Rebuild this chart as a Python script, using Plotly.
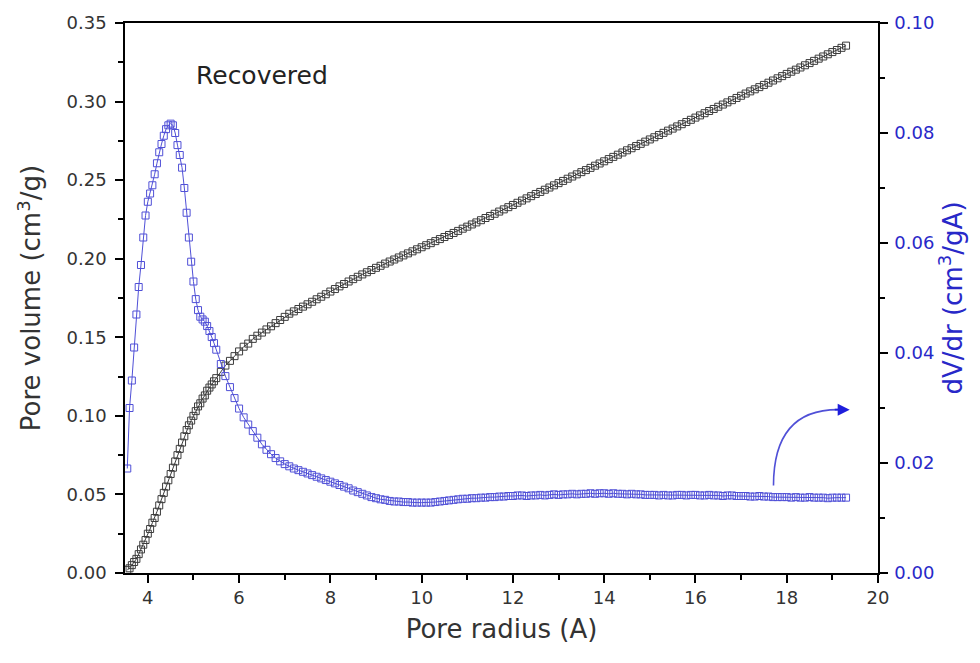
import plotly.graph_objects as go

# Pore radius (Angstrom)
radius = [
    3.55, 3.60, 3.65, 3.70, 3.75, 3.80, 3.85, 3.90, 3.95, 4.00,
    4.05, 4.10, 4.15, 4.20, 4.25, 4.30, 4.35, 4.40, 4.45, 4.50,
    4.55, 4.60, 4.65, 4.70, 4.75, 4.80, 4.85, 4.90, 4.95, 5.00,
    5.05, 5.10, 5.15, 5.20, 5.25, 5.30, 5.35, 5.40, 5.45, 5.50,
    5.6, 5.7, 5.8, 5.9, 6.0, 6.1, 6.2, 6.3, 6.4, 6.5,
    6.6, 6.7, 6.8, 6.9, 7.0, 7.1, 7.2, 7.3, 7.4, 7.5,
    7.6, 7.7, 7.8, 7.9, 8.0, 8.1, 8.2, 8.3, 8.4, 8.5,
    8.6, 8.7, 8.8, 8.9, 9.0, 9.1, 9.2, 9.3, 9.4, 9.5,
    9.6, 9.7, 9.8, 9.9, 10.0, 10.1, 10.2, 10.3, 10.4, 10.5,
    10.6, 10.7, 10.8, 10.9, 11.0, 11.1, 11.2, 11.3, 11.4, 11.5,
    11.6, 11.7, 11.8, 11.9, 12.0,
    12.1, 12.2, 12.3, 12.4, 12.5, 12.6, 12.7, 12.8, 12.9, 13.0,
    13.1, 13.2, 13.3, 13.4, 13.5, 13.6, 13.7, 13.8, 13.9, 14.0,
    14.1, 14.2, 14.3, 14.4, 14.5, 14.6, 14.7, 14.8, 14.9, 15.0,
    15.1, 15.2, 15.3, 15.4, 15.5, 15.6, 15.7, 15.8, 15.9, 16.0,
    16.1, 16.2, 16.3, 16.4, 16.5, 16.6, 16.7, 16.8, 16.9, 17.0,
    17.1, 17.2, 17.3, 17.4, 17.5, 17.6, 17.7, 17.8, 17.9, 18.0,
    18.1, 18.2, 18.3, 18.4, 18.5, 18.6, 18.7, 18.8, 18.9, 19.0,
    19.1, 19.2, 19.3,
]

# Cumulative pore volume (cm3/g)
pore_volume = [
    0.002, 0.003, 0.005, 0.007, 0.009, 0.012, 0.015, 0.018, 0.021, 0.025,
    0.028, 0.032, 0.035, 0.039, 0.043, 0.047, 0.051, 0.055, 0.059, 0.063,
    0.067, 0.071, 0.075, 0.079, 0.083, 0.087, 0.091, 0.094, 0.097, 0.100,
    0.103, 0.106, 0.108, 0.111, 0.113, 0.116, 0.118, 0.120, 0.122, 0.124,
    0.128, 0.132, 0.135, 0.138, 0.141, 0.144, 0.146, 0.149, 0.151, 0.153,
    0.155, 0.157, 0.159, 0.161, 0.163, 0.165, 0.1665, 0.1680, 0.1695, 0.1710,
    0.1726, 0.1742, 0.1758, 0.1774, 0.1791, 0.1807, 0.1824, 0.1839, 0.1855, 0.1870,
    0.1885, 0.1900, 0.1914, 0.1928, 0.1942, 0.1955, 0.1969, 0.1982, 0.1995, 0.2008,
    0.2021, 0.2034, 0.2047, 0.2060, 0.2073, 0.2086, 0.2099, 0.2112, 0.2125, 0.2138,
    0.2151, 0.2164, 0.2177, 0.2191, 0.2204, 0.2218, 0.2231, 0.2245, 0.2259, 0.2272,
    0.2286, 0.2300, 0.2314, 0.2328, 0.2342,
    0.2356, 0.2370, 0.2384, 0.2398, 0.2412, 0.2425, 0.2439, 0.2453, 0.2467, 0.2481,
    0.2495, 0.2509, 0.2523, 0.2537, 0.2551, 0.2564, 0.2578, 0.2592, 0.2606, 0.2620,
    0.2634, 0.2648, 0.2662, 0.2676, 0.2690, 0.2703, 0.2717, 0.2731, 0.2745, 0.2759,
    0.2773, 0.2787, 0.2801, 0.2815, 0.2828, 0.2842, 0.2856, 0.2870, 0.2884, 0.2898,
    0.2912, 0.2926, 0.2940, 0.2953, 0.2967, 0.2981, 0.2995, 0.3009, 0.3023, 0.3037,
    0.3051, 0.3065, 0.3078, 0.3092, 0.3106, 0.3120, 0.3134, 0.3148, 0.3162, 0.3176,
    0.3190, 0.3203, 0.3217, 0.3231, 0.3245, 0.3259, 0.3273, 0.3287, 0.3301, 0.3315,
    0.3328, 0.3342, 0.3356,
]

# Pore size distribution dV/dr (cm3/gA)
dv_dr = [
    0.019, 0.030, 0.035, 0.041, 0.047, 0.052, 0.056, 0.061, 0.065, 0.0675,
    0.069, 0.0705, 0.0725, 0.0745, 0.0765, 0.078, 0.0795, 0.0807, 0.0814, 0.0817,
    0.0814, 0.0800, 0.0778, 0.0760, 0.0737, 0.0700, 0.0655, 0.0610, 0.0566, 0.0530,
    0.0498, 0.0478, 0.0466, 0.0461, 0.0457, 0.0449, 0.0440, 0.0429, 0.0418, 0.0406,
    0.0380, 0.0358, 0.0338, 0.0318, 0.0299, 0.0283, 0.0270, 0.0258, 0.0246, 0.0234,
    0.0224, 0.0216, 0.0209, 0.0203, 0.0198, 0.0194, 0.0190, 0.0187, 0.0184, 0.0181,
    0.0178, 0.0175, 0.0172, 0.0169, 0.0166, 0.0163, 0.0160, 0.0157, 0.0154, 0.0150,
    0.0147, 0.0144, 0.0141, 0.0138, 0.0136, 0.0134, 0.0133, 0.0131, 0.0130, 0.0130,
    0.0129, 0.0129, 0.0128, 0.0128, 0.0128, 0.0128, 0.0128, 0.0129, 0.0130, 0.0131,
    0.0132, 0.0133, 0.0134, 0.0135, 0.0135, 0.0136, 0.0136, 0.0137, 0.0137, 0.0138,
    0.0138, 0.0139, 0.0139, 0.0140, 0.0140,
    0.0141, 0.0141, 0.0140, 0.0141, 0.0141, 0.0142, 0.0141, 0.0142, 0.0143, 0.0142,
    0.0143, 0.0143, 0.0144, 0.0143, 0.0144, 0.0144, 0.0145, 0.0144, 0.0145, 0.0145,
    0.0144, 0.0145, 0.0144, 0.0144, 0.0143, 0.0144, 0.0143, 0.0143, 0.0142, 0.0142,
    0.0142, 0.0141, 0.0142, 0.0141, 0.0141, 0.0142, 0.0142, 0.0141, 0.0142, 0.0142,
    0.0141, 0.0141, 0.0142, 0.0141, 0.0141, 0.0140, 0.0141, 0.0141, 0.0140, 0.0140,
    0.0140, 0.0139, 0.0139, 0.0140, 0.0139, 0.0139, 0.0138, 0.0138, 0.0138, 0.0138,
    0.0137, 0.0138, 0.0137, 0.0137, 0.0138, 0.0137, 0.0137, 0.0137, 0.0136, 0.0137,
    0.0137, 0.0137, 0.0137,
]

x_ticks = [4, 6, 8, 10, 12, 14, 16, 18, 20]
sample_label = "Recovered"

FONT = "DejaVu Sans"
GRAY = "rgb(60,60,60)"
BLUE_MARK = "rgb(80,80,215)"
BLUE_TEXT = "rgb(40,40,200)"

fig = go.Figure()

fig.add_trace(go.Scatter(
    x=radius, y=pore_volume, mode="lines+markers",
    line=dict(color=GRAY, width=1),
    marker=dict(symbol="square-open", size=7, color=GRAY, line=dict(width=1)),
    showlegend=False,
))

fig.add_trace(go.Scatter(
    x=radius, y=dv_dr, mode="lines+markers", yaxis="y2",
    line=dict(color=BLUE_MARK, width=1),
    marker=dict(symbol="square-open", size=7, color=BLUE_MARK, line=dict(width=1)),
    showlegend=False,
))

axis_common = dict(
    showgrid=False, zeroline=False, showline=True, linecolor="black",
    linewidth=1.5, ticks="outside", ticklen=8, tickwidth=1.5, tickcolor="black",
)

fig.update_layout(
    width=980, height=663,
    margin=dict(l=125, r=102, t=20, b=90),
    paper_bgcolor="white", plot_bgcolor="white",
    font=dict(family=FONT, color="#333"),
    xaxis=dict(
        **axis_common, range=[3.5, 20], tickvals=x_ticks, mirror=True,
        minor=dict(ticks="outside", ticklen=5, tickwidth=1.5, dtick=1,
                   tick0=3, tickcolor="black"),
        tickfont=dict(size=18, color="#333"),
        title=dict(text="Pore radius (A)", font=dict(size=26, color="#333"),
                   standoff=12),
    ),
    yaxis=dict(
        **axis_common, range=[0, 0.35], dtick=0.05, tickformat=".2f",
        ticklabelstandoff=5,
        minor=dict(ticks="outside", ticklen=5, tickwidth=1.5, dtick=0.025,
                   tickcolor="black"),
        tickfont=dict(size=18, color="#333"),
        title=dict(text="Pore volume (cm<sup>3</sup>/g)",
                   font=dict(size=26, color="#333"), standoff=18),
    ),
    yaxis2=dict(
        **axis_common, overlaying="y", side="right", range=[0, 0.10],
        dtick=0.02, tickformat=".2f", ticklabelstandoff=3,
        minor=dict(ticks="outside", ticklen=5, tickwidth=1.5, dtick=0.01,
                   tickcolor="black"),
        tickfont=dict(size=18, color=BLUE_TEXT),
        title=dict(text="dV/dr (cm<sup>3</sup>/gA)",
                   font=dict(size=26, color=BLUE_TEXT), standoff=4),
    ),
)

fig.add_annotation(
    x=6.5, y=0.3165, xref="x", yref="y", text=sample_label, showarrow=False,
    font=dict(size=25, color="#222", family=FONT),
)

# Curved arrow pointing from the dV/dr curve to its axis on the right
ARROW_START = (17.71, 0.0159)
ARROW_BEND = (17.71, 0.0297)
ARROW_END = (19.12, 0.0297)
ARROW_TIP = (19.38, 0.0297)

fig.add_shape(
    type="path", xref="x", yref="y2",
    path=(f"M {ARROW_START[0]},{ARROW_START[1]} "
          f"Q {ARROW_BEND[0]},{ARROW_BEND[1]} {ARROW_END[0]},{ARROW_END[1]}"),
    line=dict(color=BLUE_MARK, width=1.6),
)
fig.add_annotation(
    x=ARROW_TIP[0], y=ARROW_TIP[1], xref="x", yref="y2",
    ax=ARROW_END[0] - 0.1, ay=ARROW_END[1], axref="x", ayref="y2",
    text="", showarrow=True, arrowhead=2, arrowsize=1.5, arrowwidth=1.6,
    arrowcolor="rgb(30,30,220)",
)

fig.write_html("out.html")
